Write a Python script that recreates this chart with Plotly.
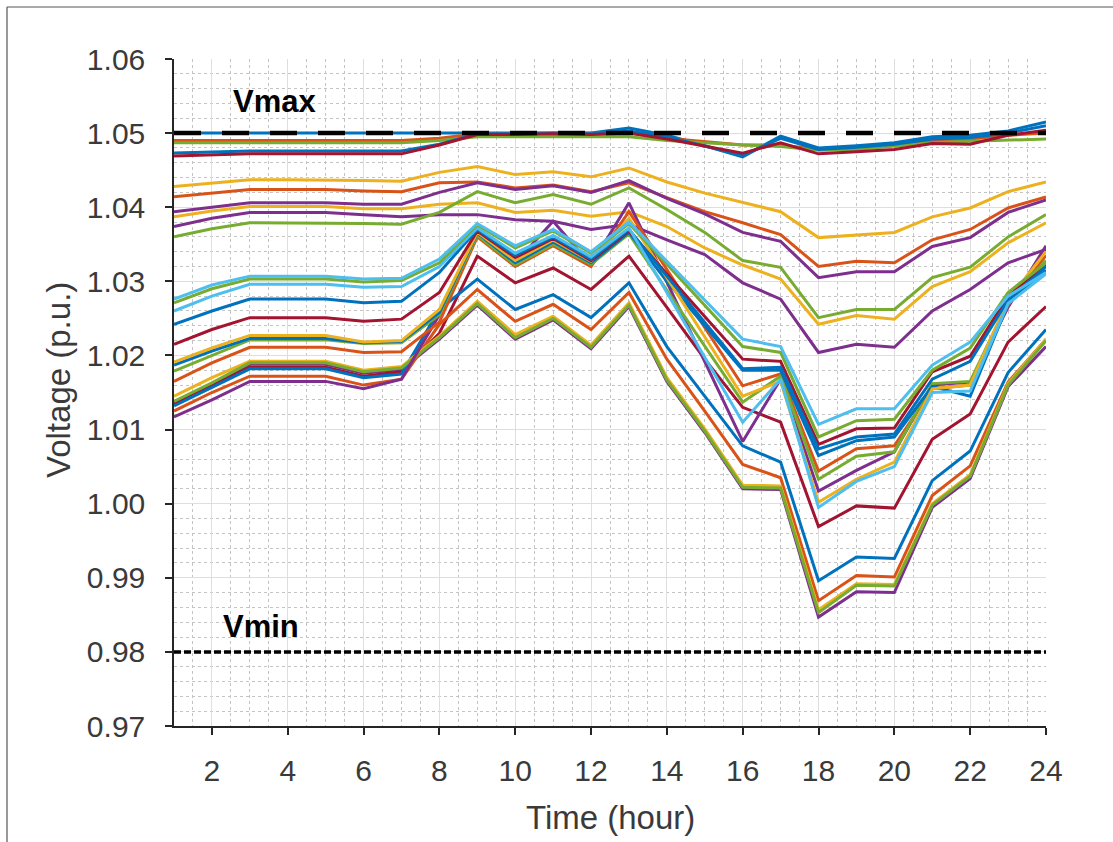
import plotly.graph_objects as go

hours = list(range(1, 25))
x_ticks = [2, 4, 6, 8, 10, 12, 14, 16, 18, 20, 22, 24]
y_ticks = [0.97, 0.98, 0.99, 1.00, 1.01, 1.02, 1.03, 1.04, 1.05, 1.06]
y_tick_text = ["0.97", "0.98", "0.99", "1.00", "1.01", "1.02", "1.03", "1.04", "1.05", "1.06"]
VMAX = 1.05
VMIN = 0.98

BLUE, ORANGE, YELLOW, PURPLE, GREEN, LBLUE, RED = (
    "#0072BD", "#D95319", "#EDB120", "#7E2F8E", "#77AC30", "#4DBEEE", "#A2142F")

# ---- near Vmax group ----
top_blue = [1.05, 1.05, 1.05, 1.05, 1.05, 1.05, 1.05, 1.05, 1.05, 1.05, 1.05, 1.05,
            1.0507, 1.0497, 1.0483, 1.0468, 1.0496, 1.0480, 1.0483, 1.0487, 1.0495, 1.0497, 1.0503, 1.0515]
top_orange = [1.0490, 1.0490, 1.0490, 1.0490, 1.0490, 1.0490, 1.0490, 1.0493, 1.0499, 1.0499, 1.0499, 1.0499,
              1.0500, 1.0493, 1.0488, 1.0484, 1.0484, 1.0478, 1.0480, 1.0484, 1.0490, 1.0492, 1.0497, 1.0500]
top_green = [1.0487, 1.0487, 1.0487, 1.0487, 1.0487, 1.0487, 1.0487, 1.0490, 1.0495, 1.0495, 1.0495, 1.0495,
             1.0495, 1.0490, 1.0487, 1.0484, 1.0482, 1.0477, 1.0478, 1.0482, 1.0487, 1.0489, 1.0490, 1.0492]
top_blue2 = [1.0473, 1.0475, 1.0476, 1.0476, 1.0476, 1.0476, 1.0476, 1.0485, 1.0499, 1.0499, 1.0500, 1.0499,
             1.0503, 1.0495, 1.0482, 1.0470, 1.0493, 1.0478, 1.0481, 1.0485, 1.0492, 1.0494, 1.0500, 1.0510]
top_red = [1.0469, 1.0471, 1.0472, 1.0472, 1.0472, 1.0472, 1.0472, 1.0484, 1.0498, 1.0498, 1.0499, 1.0498,
           1.0500, 1.0492, 1.0482, 1.0473, 1.0487, 1.0472, 1.0475, 1.0478, 1.0486, 1.0485, 1.0497, 1.0504]

# ---- middle group ----
mid_yellow = [1.0428, 1.0433, 1.0437, 1.0437, 1.0437, 1.0436, 1.0435, 1.0447, 1.0455, 1.0444, 1.0448, 1.0441,
              1.0453, 1.0434, 1.0419, 1.0406, 1.0394, 1.0359, 1.0363, 1.0366, 1.0387, 1.0399, 1.0421, 1.0434]
mid_orange = [1.0414, 1.0419, 1.0424, 1.0424, 1.0424, 1.0422, 1.0421, 1.0433, 1.0434, 1.0426, 1.0430, 1.0421,
              1.0433, 1.0413, 1.0394, 1.0379, 1.0363, 1.0320, 1.0327, 1.0325, 1.0356, 1.0370, 1.0399, 1.0414]
mid_purple = [1.0394, 1.0400, 1.0406, 1.0406, 1.0406, 1.0404, 1.0404, 1.0420, 1.0433, 1.0424, 1.0429, 1.0420,
              1.0436, 1.0412, 1.0391, 1.0366, 1.0354, 1.0305, 1.0313, 1.0313, 1.0347, 1.0359, 1.0393, 1.0410]
mid_yellow2 = [1.0387, 1.0395, 1.0401, 1.0401, 1.0401, 1.0398, 1.0398, 1.0404, 1.0406, 1.0393, 1.0396, 1.0388,
               1.0394, 1.0374, 1.0345, 1.0322, 1.0303, 1.0242, 1.0254, 1.0249, 1.0293, 1.0313, 1.0352, 1.0379]
mid_purple2 = [1.0374, 1.0385, 1.0393, 1.0393, 1.0393, 1.0390, 1.0387, 1.0390, 1.0390, 1.0383, 1.0381, 1.0370,
               1.0377, 1.0356, 1.0336, 1.0298, 1.0276, 1.0204, 1.0215, 1.0211, 1.0260, 1.0289, 1.0325, 1.0343]
mid_green = [1.0360, 1.0371, 1.0379, 1.0379, 1.0379, 1.0378, 1.0377, 1.0393, 1.0421, 1.0406, 1.0417, 1.0404,
             1.0426, 1.0397, 1.0366, 1.0328, 1.0319, 1.0251, 1.0262, 1.0262, 1.0305, 1.0319, 1.0360, 1.0390]

# ---- lower group (upper zig-zag cluster) ----
low_lblue = [1.0276, 1.0295, 1.0307, 1.0307, 1.0307, 1.0303, 1.0304, 1.0330, 1.0378, 1.0348, 1.0370, 1.0340,
             1.0380, 1.0327, 1.0275, 1.0222, 1.0212, 1.0107, 1.0128, 1.0128, 1.0187, 1.0218, 1.0280, 1.0312]
low_green = [1.0271, 1.0290, 1.0303, 1.0303, 1.0303, 1.0299, 1.0301, 1.0325, 1.0376, 1.0345, 1.0368, 1.0338,
             1.0378, 1.0323, 1.0268, 1.0212, 1.0204, 1.0090, 1.0112, 1.0114, 1.0180, 1.0210, 1.0285, 1.0325]
low_lblue2 = [1.0260, 1.0280, 1.0296, 1.0296, 1.0296, 1.0292, 1.0293, 1.0320, 1.0372, 1.0338, 1.0362, 1.0333,
              1.0372, 1.0285, 1.0198, 1.0110, 1.0168, 0.9995, 1.0030, 1.0050, 1.0150, 1.0152, 1.0270, 1.0310]
low_blue = [1.0242, 1.0260, 1.0276, 1.0276, 1.0276, 1.0271, 1.0273, 1.0312, 1.0370, 1.0335, 1.0360, 1.0330,
            1.0370, 1.0307, 1.0245, 1.0182, 1.0184, 1.0074, 1.0090, 1.0094, 1.0168, 1.0192, 1.0275, 1.0320]
low_red = [1.0215, 1.0235, 1.0251, 1.0251, 1.0251, 1.0246, 1.0249, 1.0285, 1.0368, 1.0332, 1.0358, 1.0328,
           1.0368, 1.0310, 1.0253, 1.0195, 1.0192, 1.0080, 1.0101, 1.0102, 1.0178, 1.0199, 1.0280, 1.0322]
low_yellow = [1.0191, 1.0210, 1.0227, 1.0227, 1.0227, 1.0218, 1.0220, 1.0262, 1.0366, 1.0328, 1.0356, 1.0327,
              1.0385, 1.0305, 1.0225, 1.0145, 1.0165, 1.0002, 1.0033, 1.0056, 1.0155, 1.0160, 1.0275, 1.0340]
low_blue2 = [1.0187, 1.0206, 1.0223, 1.0223, 1.0223, 1.0217, 1.0219, 1.0258, 1.0365, 1.0325, 1.0353, 1.0325,
             1.0366, 1.0300, 1.0240, 1.0180, 1.0180, 1.0065, 1.0085, 1.0090, 1.0158, 1.0145, 1.0270, 1.0315]
low_green2 = [1.0179, 1.0200, 1.0221, 1.0221, 1.0221, 1.0216, 1.0217, 1.0255, 1.0362, 1.0322, 1.0350, 1.0323,
              1.0364, 1.0288, 1.0212, 1.0137, 1.0172, 1.0033, 1.0064, 1.0070, 1.0162, 1.0165, 1.0272, 1.0328]
low_orange = [1.0165, 1.0190, 1.0211, 1.0211, 1.0211, 1.0204, 1.0205, 1.0245, 1.0360, 1.0320, 1.0348, 1.0320,
              1.0394, 1.0316, 1.0238, 1.0159, 1.0175, 1.0044, 1.0074, 1.0078, 1.0155, 1.0160, 1.0268, 1.0335]
low_purple = [1.0117, 1.0140, 1.0165, 1.0165, 1.0165, 1.0155, 1.0168, 1.0255, 1.0365, 1.0325, 1.0381, 1.0322,
              1.0406, 1.0299, 1.0192, 1.0084, 1.0168, 1.0017, 1.0045, 1.0070, 1.0160, 1.0164, 1.0265, 1.0348]

# ---- lowest group (lower zig-zag) ----
bot_purple = [1.0136, 1.0161, 1.0188, 1.0188, 1.0188, 1.0176, 1.0181, 1.0222, 1.0268, 1.0222, 1.0248, 1.0209,
              1.0266, 1.0165, 1.0096, 1.0020, 1.0019, 0.9847, 0.9881, 0.9880, 0.9995, 1.0034, 1.0158, 1.0212]
bot_red = [1.0135, 1.0160, 1.0184, 1.0184, 1.0184, 1.0172, 1.0178, 1.0230, 1.0334, 1.0298, 1.0318, 1.0289,
           1.0334, 1.0265, 1.0195, 1.0130, 1.0110, 0.9969, 0.9997, 0.9994, 1.0087, 1.0121, 1.0218, 1.0266]
bot_blue = [1.0132, 1.0157, 1.0182, 1.0182, 1.0182, 1.0170, 1.0175, 1.0262, 1.0303, 1.0262, 1.0282, 1.0251,
            1.0298, 1.0212, 1.0145, 1.0078, 1.0056, 0.9896, 0.9928, 0.9926, 1.0031, 1.0071, 1.0177, 1.0235]
bot_orange = [1.0125, 1.0150, 1.0172, 1.0172, 1.0172, 1.0160, 1.0168, 1.0242, 1.0289, 1.0246, 1.0269, 1.0235,
              1.0285, 1.0195, 1.0125, 1.0053, 1.0035, 0.9869, 0.9903, 0.9901, 1.0011, 1.0051, 1.0164, 1.0222]
bot_yellow = [1.0145, 1.0170, 1.0192, 1.0192, 1.0192, 1.0180, 1.0185, 1.0226, 1.0273, 1.0228, 1.0253, 1.0214,
              1.0271, 1.0170, 1.0101, 1.0025, 1.0024, 0.9857, 0.9892, 0.9891, 1.0000, 1.0039, 1.0162, 1.0222]
bot_green = [1.0138, 1.0163, 1.0190, 1.0190, 1.0190, 1.0178, 1.0183, 1.0224, 1.0270, 1.0224, 1.0250, 1.0211,
             1.0268, 1.0167, 1.0098, 1.0022, 1.0021, 0.9853, 0.9890, 0.9889, 0.9998, 1.0037, 1.0160, 1.0220]

series = [
    (top_blue, BLUE), (top_orange, ORANGE), (top_green, GREEN), (top_blue2, BLUE), (top_red, RED),
    (mid_yellow, YELLOW), (mid_orange, ORANGE), (mid_purple, PURPLE), (mid_yellow2, YELLOW),
    (mid_purple2, PURPLE), (mid_green, GREEN),
    (bot_purple, PURPLE), (bot_red, RED), (bot_blue, BLUE), (bot_orange, ORANGE),
    (bot_yellow, YELLOW), (bot_green, GREEN),
    (low_purple, PURPLE), (low_orange, ORANGE), (low_green2, GREEN), (low_blue2, BLUE),
    (low_yellow, YELLOW), (low_red, RED), (low_blue, BLUE), (low_lblue2, LBLUE),
    (low_green, GREEN), (low_lblue, LBLUE),
]

fig = go.Figure()
for vals, col in series:
    fig.add_trace(go.Scatter(x=hours, y=vals, mode="lines",
                             line=dict(color=col, width=3), showlegend=False, hoverinfo="skip"))

fig.add_trace(go.Scatter(x=[hours[0], hours[-1]], y=[VMAX, VMAX], mode="lines",
                         line=dict(color="black", width=4.5, dash="27px,21px"), showlegend=False))
fig.add_trace(go.Scatter(x=[hours[0], hours[-1]], y=[VMIN, VMIN], mode="lines",
                         line=dict(color="black", width=3.5, dash="7px,3px"), showlegend=False))

fig.add_annotation(x=2.5, y=1.0542, xref="x", yref="y", text="<b>Vmax</b>", showarrow=False,
                   xanchor="left", yanchor="middle", font=dict(size=31, color="black", family="Liberation Sans"))
fig.add_annotation(x=2.25, y=0.9834, xref="x", yref="y", text="<b>Vmin</b>", showarrow=False,
                   xanchor="left", yanchor="middle", font=dict(size=31, color="black", family="Liberation Sans"))

L, R, T, B = 174, 67, 59, 116
PW, PH = 1113 - L - R, 842 - T - B

fig.add_annotation(x=(610 - L) / PW, y=(726 - 817) / PH, xref="paper", yref="paper",
                   text="Time (hour)", showarrow=False, xanchor="center", yanchor="middle",
                   font=dict(size=33, color="#3a3a3a", family="Liberation Sans"))
fig.add_annotation(x=(58 - L) / PW, y=(726 - 380) / PH, xref="paper", yref="paper",
                   text="Voltage (p.u.)", showarrow=False, textangle=-90, xanchor="center", yanchor="middle",
                   font=dict(size=33, color="#3a3a3a", family="Liberation Sans"))

# figure frame (left and top edges)
fig.add_shape(type="line", xref="paper", yref="paper", x0=(7 - L) / PW, x1=(7 - L) / PW,
              y0=(726 - 7) / PH, y1=(726 - 900) / PH, line=dict(color="#555555", width=1.2))
fig.add_shape(type="line", xref="paper", yref="paper", x0=(7 - L) / PW, x1=(1200 - L) / PW,
              y0=(726 - 7) / PH, y1=(726 - 7) / PH, line=dict(color="#555555", width=1.2))

axis_font = dict(size=30, color="#3a3a3a", family="Liberation Sans")
fig.update_xaxes(range=[1, 24], tickvals=x_ticks, ticks="outside", ticklen=7, tickwidth=1.5,
                 tickcolor="#262626", showline=True, linecolor="#262626", linewidth=1.5,
                 showgrid=True, gridcolor="#dedede", gridwidth=1, zeroline=False,
                 tickfont=axis_font, ticklabelstandoff=10,
                 minor=dict(dtick=0.5, showgrid=True, gridcolor="#c4c4c4", griddash="dot", gridwidth=1))
fig.update_yaxes(range=[0.97, 1.06], tickvals=y_ticks, ticktext=y_tick_text, ticks="outside", ticklen=7,
                 tickwidth=1.5, tickcolor="#262626", showline=True, linecolor="#262626", linewidth=1.5,
                 showgrid=True, gridcolor="#dedede", gridwidth=1, zeroline=False,
                 tickfont=axis_font, ticklabelstandoff=14,
                 minor=dict(dtick=0.002, showgrid=True, gridcolor="#c4c4c4", griddash="dot", gridwidth=1))

fig.update_layout(width=1113, height=842, margin=dict(l=L, r=R, t=T, b=B),
                  plot_bgcolor="white", paper_bgcolor="white", showlegend=False)

fig.write_html("out.html")
